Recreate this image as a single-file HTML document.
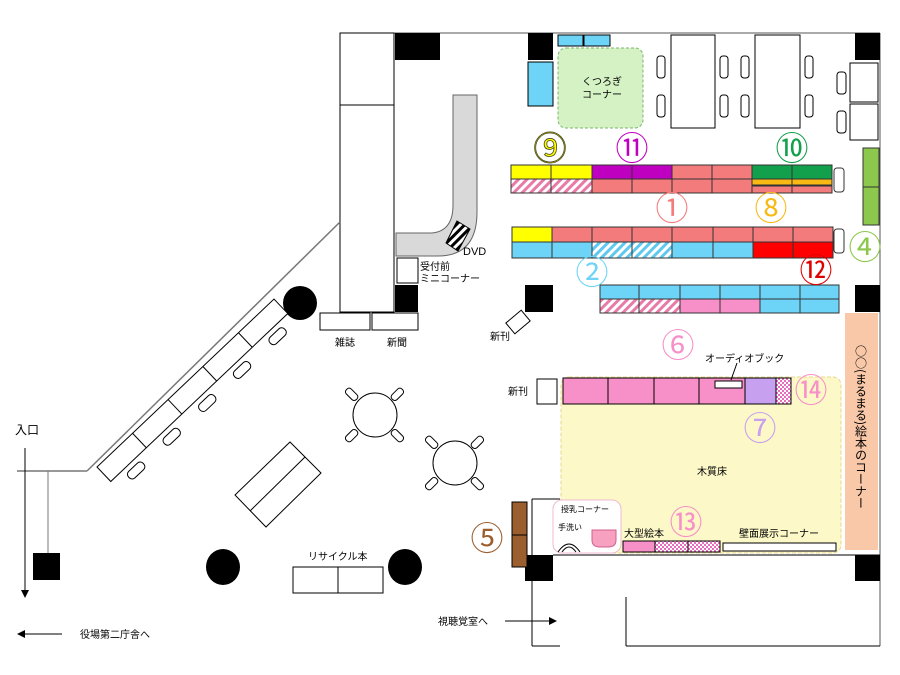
<!DOCTYPE html>
<html><head><meta charset="utf-8"><style>
html,body{margin:0;padding:0;background:#fff;}
svg{display:block;font-family:"Liberation Sans","Noto Sans CJK JP",sans-serif;}
</style></head><body>
<svg width="900" height="675" viewBox="0 0 900 675" xmlns="http://www.w3.org/2000/svg">
<defs>
<pattern id="ph" width="6" height="6" patternUnits="userSpaceOnUse" patternTransform="rotate(45)"><rect width="6" height="6" fill="#fff"/><rect width="3" height="6" fill="#e87aa8"/></pattern>
<pattern id="bh" width="6" height="6" patternUnits="userSpaceOnUse" patternTransform="rotate(45)"><rect width="6" height="6" fill="#fff"/><rect width="3" height="6" fill="#5fc8ef"/></pattern>
<pattern id="ck" width="4" height="4" patternUnits="userSpaceOnUse"><rect width="4" height="4" fill="#fff"/><rect width="2" height="2" fill="#e86cc0"/><rect x="2" y="2" width="2" height="2" fill="#e86cc0"/></pattern>
<pattern id="dv" width="6" height="6" patternUnits="userSpaceOnUse" patternTransform="rotate(45)"><rect width="6" height="6" fill="#fff"/><rect width="3" height="6" fill="#000"/></pattern>
</defs>
<g stroke="#000" fill="none" stroke-width="1">
<line x1="340" y1="33" x2="880" y2="33" stroke="#555"/>
<line x1="880" y1="33" x2="880" y2="646" stroke="#555"/>
<rect x="340" y="33" width="54" height="279" fill="#fff"/>
<line x1="340" y1="105" x2="394" y2="105"/>
<line x1="340" y1="222" x2="87" y2="471" stroke="#777" stroke-width="1.5"/>
<line x1="17" y1="471" x2="87" y2="471" stroke="#777" stroke-width="1.5"/>
<line x1="48" y1="471" x2="48" y2="553" stroke="#777"/>
<line x1="25" y1="448" x2="25" y2="592"/>
<line x1="532" y1="499" x2="560" y2="499"/>
<line x1="532" y1="499" x2="532" y2="646"/>
<line x1="532" y1="646" x2="560" y2="646"/>
<line x1="553" y1="555" x2="880" y2="555"/>
<line x1="626" y1="597" x2="626" y2="646"/>
<line x1="626" y1="646" x2="880" y2="646"/>
<line x1="505" y1="621" x2="550" y2="621"/>
<line x1="22" y1="634" x2="62" y2="634"/>
</g>
<polygon points="25,598 21,590 29,590" fill="#000"/>
<polygon points="557,621 549,617 549,625" fill="#000"/>
<polygon points="17,634 25,630 25,638" fill="#000"/>
<g fill="#000">
<rect x="395" y="33" width="45" height="27"/><rect x="528" y="33" width="25" height="27"/><rect x="855" y="33" width="25" height="27"/>
<rect x="395" y="285" width="23" height="27"/><rect x="525" y="285" width="28" height="27"/><rect x="855" y="285" width="25" height="27"/>
<rect x="525" y="555" width="28" height="26"/><rect x="855" y="555" width="25" height="26"/><rect x="33" y="553" width="27" height="27"/>
<circle cx="300" cy="303" r="17"/><ellipse cx="223" cy="567" rx="17" ry="18"/><ellipse cx="405" cy="567" rx="17" ry="18"/>
</g>
<g transform="translate(97,467) rotate(-43.5)" stroke="#000" fill="#fff">
<rect x="0" y="0" width="244" height="20"/>
<line x1="49" y1="0" x2="49" y2="20"/><line x1="98" y1="0" x2="98" y2="20"/><line x1="146" y1="0" x2="146" y2="20"/><line x1="195" y1="0" x2="195" y2="20"/>
<rect x="16" y="25" width="20" height="9" rx="4"/><rect x="65" y="25" width="20" height="9" rx="4"/><rect x="114" y="25" width="20" height="9" rx="4"/><rect x="162" y="25" width="20" height="9" rx="4"/><rect x="211" y="25" width="20" height="9" rx="4"/>
</g>
<g stroke="#000" fill="#fff">
<polygon points="290,442 321,473 266,527 235,495"/>
<line x1="305" y1="457" x2="250" y2="511"/>
</g>
<g stroke="#000" fill="#fff">
<circle cx="375" cy="415" r="22"/>
<rect x="345" y="391" width="14" height="7" rx="3" transform="rotate(45 352 394)"/>
<rect x="390" y="391" width="14" height="7" rx="3" transform="rotate(-45 397 394)"/>
<rect x="345" y="432" width="14" height="7" rx="3" transform="rotate(-45 352 436)"/>
<rect x="390" y="432" width="14" height="7" rx="3" transform="rotate(45 397 436)"/>
<circle cx="455" cy="463" r="22"/>
<rect x="425" y="439" width="14" height="7" rx="3" transform="rotate(45 432 442)"/>
<rect x="470" y="439" width="14" height="7" rx="3" transform="rotate(-45 477 442)"/>
<rect x="425" y="480" width="14" height="7" rx="3" transform="rotate(-45 432 484)"/>
<rect x="470" y="480" width="14" height="7" rx="3" transform="rotate(45 477 484)"/>
</g>
<g stroke="#000" fill="#fff">
<rect x="293" y="567" width="90" height="26"/><line x1="338" y1="567" x2="338" y2="593"/>
<rect x="320" y="313" width="50" height="17"/><rect x="372" y="313" width="46" height="17"/>
<rect x="397" y="258" width="21" height="25"/>
<rect x="508" y="315" width="20" height="14" transform="rotate(-40 518 322)"/>
</g>
<path d="M453,95 L477,95 L477,212 Q477,256 438,256 L396,256 L396,233 L432,233 Q453,231 453,205 Z" fill="#d9d9d9" stroke="#666"/>
<polygon points="457,221 470,229 458,251 446,243" fill="url(#dv)" stroke="#000"/>
<g stroke="#000">
<rect x="558" y="35" width="25" height="11" fill="#6dd3f7"/><rect x="584" y="35" width="26" height="11" fill="#6dd3f7"/>
<rect x="528" y="62" width="25" height="44" fill="#6dd3f7"/>
<rect x="558" y="48" width="85" height="80" rx="8" fill="#d5f2c5" stroke="#7cb46a" stroke-dasharray="3,2"/>
<g fill="#fff">
<rect x="671" y="35" width="44" height="93"/><rect x="755" y="35" width="45" height="93"/>
<rect x="657" y="56" width="8" height="22" rx="3"/><rect x="657" y="95" width="8" height="22" rx="3"/>
<rect x="720" y="56" width="8" height="22" rx="3"/><rect x="720" y="95" width="8" height="22" rx="3"/>
<rect x="741" y="56" width="8" height="22" rx="3"/><rect x="741" y="95" width="8" height="22" rx="3"/>
<rect x="805" y="56" width="8" height="22" rx="3"/><rect x="805" y="95" width="8" height="22" rx="3"/>
<rect x="850" y="63" width="28" height="39"/><rect x="850" y="104" width="28" height="36"/>
<rect x="837" y="72" width="9" height="22" rx="3"/><rect x="837" y="111" width="9" height="22" rx="3"/>
</g>
</g>
<g stroke="#333" stroke-width="1">
<rect x="511" y="165" width="40" height="14" fill="#ffff00"/><rect x="551" y="165" width="41" height="14" fill="#ffff00"/>
<rect x="592" y="165" width="40" height="14" fill="#c000c0"/><rect x="632" y="165" width="40" height="14" fill="#c000c0"/>
<rect x="672" y="165" width="40" height="14" fill="#f47b7b"/><rect x="712" y="165" width="40" height="14" fill="#f47b7b"/>
<rect x="752" y="165" width="40" height="14" fill="#13a04c"/><rect x="792" y="165" width="40" height="14" fill="#13a04c"/>
<rect x="511" y="179" width="40" height="14" fill="url(#ph)"/><rect x="551" y="179" width="41" height="14" fill="url(#ph)"/>
<rect x="592" y="179" width="40" height="14" fill="#f47b7b"/><rect x="632" y="179" width="40" height="14" fill="#f47b7b"/>
<rect x="672" y="179" width="40" height="14" fill="#f47b7b"/><rect x="712" y="179" width="40" height="14" fill="#f47b7b"/>
<rect x="752" y="179" width="40" height="6" fill="#f8b915"/><rect x="792" y="179" width="40" height="6" fill="#f8b915"/>
<rect x="752" y="186" width="40" height="7" fill="#f47b7b"/><rect x="792" y="186" width="40" height="7" fill="#f47b7b"/>
<rect x="834" y="168" width="10" height="24" rx="3" fill="#fff"/>
<rect x="512" y="227" width="40" height="15" fill="#ffff00"/>
<rect x="552" y="227" width="40" height="15" fill="#f47b7b"/><rect x="592" y="227" width="40" height="15" fill="#f47b7b"/><rect x="632" y="227" width="40" height="15" fill="#f47b7b"/><rect x="672" y="227" width="41" height="15" fill="#f47b7b"/><rect x="713" y="227" width="40" height="15" fill="#f47b7b"/><rect x="753" y="227" width="40" height="15" fill="#f47b7b"/><rect x="793" y="227" width="40" height="15" fill="#f47b7b"/>
<rect x="512" y="242" width="40" height="16" fill="#6dd3f7"/><rect x="552" y="242" width="40" height="16" fill="#6dd3f7"/>
<rect x="592" y="242" width="40" height="16" fill="url(#bh)"/><rect x="632" y="242" width="40" height="16" fill="url(#bh)"/>
<rect x="672" y="242" width="41" height="16" fill="#6dd3f7"/><rect x="713" y="242" width="40" height="16" fill="#6dd3f7"/>
<rect x="753" y="242" width="40" height="16" fill="#ff0000"/><rect x="793" y="242" width="40" height="16" fill="#ff0000"/>
<rect x="834" y="229" width="10" height="24" rx="3" fill="#fff"/>
<rect x="600" y="285" width="39" height="14" fill="#6dd3f7"/><rect x="639" y="285" width="41" height="14" fill="#6dd3f7"/><rect x="680" y="285" width="40" height="14" fill="#6dd3f7"/><rect x="720" y="285" width="40" height="14" fill="#6dd3f7"/><rect x="760" y="285" width="40" height="14" fill="#6dd3f7"/><rect x="800" y="285" width="39" height="14" fill="#6dd3f7"/>
<rect x="600" y="299" width="39" height="14" fill="url(#ph)"/><rect x="639" y="299" width="41" height="14" fill="url(#ph)"/>
<rect x="680" y="299" width="40" height="14" fill="#f78fc8"/><rect x="720" y="299" width="40" height="14" fill="#f78fc8"/>
<rect x="760" y="299" width="40" height="14" fill="#6dd3f7"/><rect x="800" y="299" width="39" height="14" fill="#6dd3f7"/>
<rect x="863" y="148" width="16" height="39" fill="#8cc84b"/><rect x="863" y="187" width="16" height="38" fill="#8cc84b"/>
</g>
<rect x="845" y="313" width="33" height="237" fill="#f8c8a8"/>
<rect x="561" y="377" width="280" height="176" rx="8" fill="#fcf8c8" stroke="#e8d890" stroke-dasharray="4,2"/>
<g stroke="#000">
<rect x="563" y="378" width="45" height="26" fill="#f78fc8"/><rect x="608" y="378" width="46" height="26" fill="#f78fc8"/><rect x="654" y="378" width="45" height="26" fill="#f78fc8"/><rect x="699" y="378" width="46" height="26" fill="#f78fc8"/>
<rect x="745" y="378" width="31" height="26" fill="#c8a0f0"/><rect x="776" y="378" width="15" height="26" fill="url(#ck)"/>
<rect x="715" y="381" width="27" height="7" fill="#fff"/>
<line x1="737" y1="363" x2="731" y2="380"/>
<rect x="537" y="379" width="20" height="25" fill="#fff"/>
<rect x="553" y="500" width="68" height="53" rx="9" fill="#fff" stroke="#f0b8d0"/>
<path d="M592,530 L616,530 L616,540 Q616,547 608,547 L600,547 Q592,547 592,540 Z" fill="#f7a0c0" stroke="#d06090"/>
<path d="M558,552 Q569,536 580,552" fill="none"/>
<path d="M562,552 Q569,542 576,552" fill="none"/>
<rect x="623" y="541" width="32" height="11" fill="#f78fc8"/><rect x="655" y="541" width="33" height="11" fill="url(#ck)"/><rect x="688" y="541" width="32" height="11" fill="url(#ck)"/>
<rect x="723" y="543" width="113" height="8" fill="#fff"/>
<rect x="512" y="502" width="15" height="33" fill="#9b5e2e"/><rect x="512" y="535" width="15" height="32" fill="#9b5e2e"/>
</g>
<g font-size="33" text-anchor="middle" font-family="'Noto Sans CJK JP','DejaVu Sans',sans-serif">
<text x="550" y="160" fill="#ffff00" stroke="#4a4a20" stroke-width="0.8">⑨</text>
<text x="632" y="160" fill="#c000c0">⑪</text>
<text x="792" y="160" fill="#13a04c">⑩</text>
<text x="672" y="220" fill="#f47b7b">①</text>
<text x="771" y="220" fill="#f8b915">⑧</text>
<text x="592" y="284" fill="#6dd3f7">②</text>
<text x="816" y="282" fill="#e00000">⑫</text>
<text x="865" y="259" fill="#8cc84b">④</text>
<text x="678" y="357" fill="#f78fc8">⑥</text>
<text x="811" y="402" fill="#f78fc8">⑭</text>
<text x="760" y="440" fill="#c8a0f0">⑦</text>
<text x="686" y="534" fill="#f78fc8">⑬</text>
<text x="487" y="550" fill="#9b5e2e">⑤</text>
</g>
<g font-size="10" fill="#000">
<text x="582" y="85">くつろぎ</text><text x="582" y="98">コーナー</text>
<text x="463" y="255" font-size="11">DVD</text>
<text x="420" y="270">受付前</text><text x="420" y="282">ミニコーナー</text>
<text x="335" y="346">雑誌</text><text x="387" y="346">新聞</text>
<text x="490" y="340">新刊</text>
<text x="508" y="395">新刊</text>
<text x="705" y="362">オーディオブック</text>
<text x="697" y="475">木質床</text>
<text x="561" y="512" font-size="8">授乳コーナー</text>
<text x="558" y="530" font-size="8">手洗い</text>
<text x="624" y="537">大型絵本</text>
<text x="739" y="537">壁面展示コーナー</text>
<text x="308" y="560">リサイクル本</text>
<text x="15" y="434" font-size="12">入口</text>
<text x="438" y="625">視聴覚室へ</text>
<text x="80" y="638">役場第二庁舎へ</text>
</g>
<text x="861" y="345" font-size="12" font-family="'Noto Sans CJK JP',sans-serif" style="writing-mode:vertical-rl" fill="#000">○○(まるまる)絵本のコーナー</text>
</svg>
</body></html>
